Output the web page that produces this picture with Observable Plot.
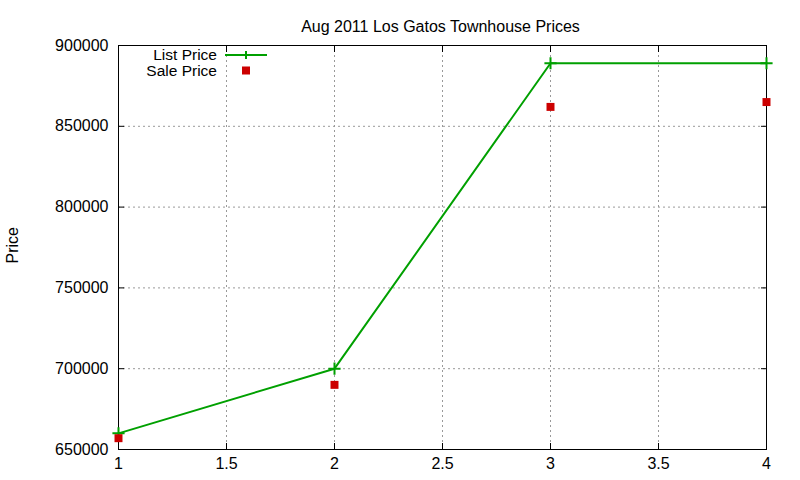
<!DOCTYPE html>
<html>
<head>
<meta charset="utf-8">
<script src="https://cdn.jsdelivr.net/npm/d3@7"></script>
<script src="https://cdn.jsdelivr.net/npm/@observablehq/plot@0.6"></script>
<style>
  html, body { margin: 0; padding: 0; background: #fff; }
  #wrap { position: relative; width: 800px; height: 480px; font-family: "Liberation Sans", Arial, sans-serif; }
  #legend { position: absolute; left: 0; top: 0; }
</style>
</head>
<body>
<div id="wrap"></div>
<script>
const title = "Aug 2011 Los Gatos Townhouse Prices";
const yLabel = "Price";
const listName = "List Price";
const saleName = "Sale Price";
const xs = [1, 2, 3, 4];
const listPrice = [660000, 700000, 889000, 889000];
const salePrice = [657000, 690000, 862000, 865000];
const xTicks = [1, 1.5, 2, 2.5, 3, 3.5, 4];
const yTicks = [650000, 700000, 750000, 800000, 850000, 900000];

const listData = xs.map((x, i) => ({x, y: listPrice[i]}));
const saleData = xs.map((x, i) => ({x, y: salePrice[i]}));

const green = "#00a000";
const red = "#cc0000";
const font = "Liberation Sans, Arial, sans-serif";

const chart = Plot.plot({
  width: 800,
  height: 480,
  marginLeft: 118,
  marginRight: 34,
  marginTop: 45,
  marginBottom: 31,
  style: {fontFamily: font, fontSize: "16px", color: "#000", background: "#fff"},
  x: {domain: [1, 4], ticks: xTicks},
  y: {domain: [650000, 900000], ticks: yTicks},
  marks: [
    Plot.gridX(xTicks.slice(1, -1), {stroke: "#999", strokeOpacity: 1, strokeDasharray: "2,3"}),
    Plot.gridY(yTicks.slice(1, -1), {stroke: "#999", strokeOpacity: 1, strokeDasharray: "2,3"}),
    Plot.frame({stroke: "#000", strokeWidth: 1}),
    Plot.axisX(xTicks, {anchor: "bottom", tickSize: -6, tickPadding: 14, fontSize: 16, label: null, tickFormat: d => String(d)}),
    Plot.axisX(xTicks, {anchor: "top", tickSize: -6, tickFormat: () => "", label: null}),
    Plot.axisY(yTicks, {anchor: "left", tickSize: -6, tickPadding: 16, fontSize: 16, label: null, tickFormat: d => String(d)}),
    Plot.axisY(yTicks, {anchor: "right", tickSize: -6, tickFormat: () => "", label: null}),
    Plot.line(listData, {x: "x", y: "y", stroke: green, strokeWidth: 2}),
    Plot.dot(listData, {x: "x", y: "y", symbol: "plus", r: 4, stroke: green, strokeWidth: 2}),
    Plot.dot(saleData, {x: "x", y: "y", symbol: "square", r: 4.5, fill: red, stroke: "none"}),
    Plot.text([title], {text: d => d, frameAnchor: "top", dy: -25, dx: -2, fontSize: 16, fill: "#000"}),
    Plot.text([yLabel], {text: d => d, frameAnchor: "left", dx: -106, dy: 16, rotate: -90, fontSize: 16, fill: "#000"})
  ]
});
document.getElementById("wrap").appendChild(chart);

// Legend overlay (inside plot, top-left)
const legend = d3.select("#wrap").append("svg")
  .attr("id", "legend").attr("width", 800).attr("height", 480)
  .style("pointer-events", "none");
const items = [
  {name: listName, type: "line"},
  {name: saleName, type: "square"}
];
const g = legend.selectAll("g").data(items).join("g")
  .attr("transform", (d, i) => `translate(0, ${55 + i * 15.5})`);
g.append("text").attr("x", 217).attr("y", 0).attr("dy", "0.35em")
  .attr("text-anchor", "end").attr("font-family", font).attr("font-size", 15.5)
  .text(d => d.name);
g.filter(d => d.type === "line").append("line")
  .attr("x1", 225).attr("x2", 267).attr("y1", 0).attr("y2", 0)
  .attr("stroke", green).attr("stroke-width", 2);
g.filter(d => d.type === "line").append("path")
  .attr("d", "M246,-4V4M242,0H250").attr("stroke", green).attr("stroke-width", 2);
g.filter(d => d.type === "square").append("rect")
  .attr("x", 242).attr("y", -4).attr("width", 8).attr("height", 8).attr("fill", red);
</script>
</body>
</html>
